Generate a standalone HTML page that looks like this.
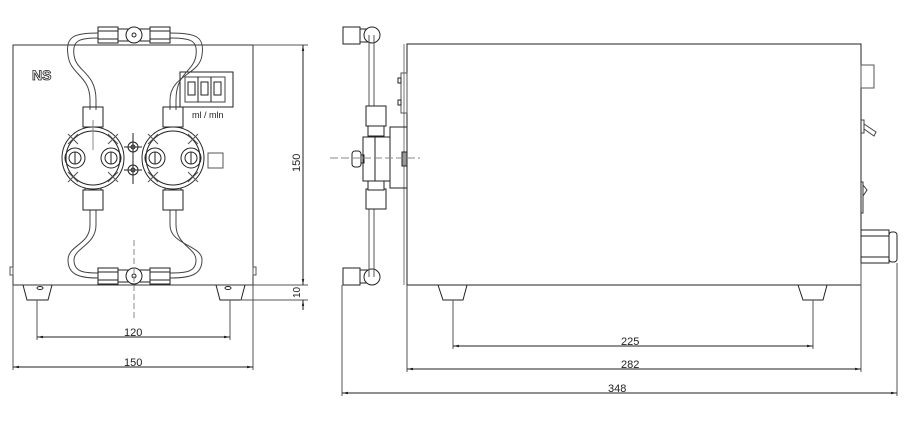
<!DOCTYPE html>
<html><head><meta charset="utf-8"><style>
html,body{margin:0;padding:0;background:#fff;width:904px;height:422px;overflow:hidden}
svg{display:block}
text{font-family:"Liberation Sans",sans-serif;font-size:11px;fill:#222;stroke:none;font-weight:normal}
</style></head><body>
<svg width="904" height="422" viewBox="0 0 904 422" xmlns="http://www.w3.org/2000/svg" fill="none" stroke="#222" stroke-width="1">
<defs>
<marker id="a" viewBox="0 0 10 10" refX="10" refY="5" markerWidth="8" markerHeight="6" orient="auto-start-reverse"><path d="M0,3 L10,5 L0,7" fill="#222" stroke="none"/></marker>
</defs>

<!-- ===== FRONT VIEW ===== -->
<rect x="13" y="45" width="240" height="240" stroke="#333"/>
<rect x="10" y="267" width="3" height="8" stroke="#555"/>
<rect x="253" y="267" width="3" height="8" stroke="#555"/>
<path d="M23,285 L27,300 L48,300 L52,285"/>
<path d="M216,285 L220,300 L241,300 L245,285"/>
<ellipse cx="40" cy="288" rx="3" ry="1.5"/>
<ellipse cx="228" cy="288" rx="3" ry="1.5"/>

<!-- NS logo -->
<text x="32" y="80" style="font-size:14px;font-weight:bold;fill:#fff;stroke:#222;stroke-width:0.8">NS</text>

<!-- display -->
<rect x="180" y="72" width="53" height="35"/>
<rect x="185" y="77" width="40" height="25" stroke="#444"/>
<rect x="188" y="82" width="7" height="13"/>
<rect x="201" y="82" width="7" height="13"/>
<rect x="214" y="82" width="7" height="13"/>
<line x1="198" y1="77" x2="198" y2="102"/><line x1="211" y1="77" x2="211" y2="102"/>
<text x="192" y="118" style="font-size:9px">ml / mln</text>

<g stroke="#444">
<path d="M98,33 C75,33 65,36 68,55 C70,75 90,75 90,100 L90,110"/>
<path d="M98,38 C80,38 72,40 74,55 C76,72 96,72 96,100 L96,110"/>
<path d="M170,33 C195,33 205,36 202,55 C200,75 170,75 170,100 L170,110"/>
<path d="M170,38 C190,38 198,40 196,55 C194,72 176,72 176,100 L176,110"/>
<path d="M90,210 L90,225 C90,245 68,245 68,260 C68,275 80,278 98,278"/>
<path d="M96,210 L96,225 C96,245 74,248 74,260 C74,272 84,273 98,273"/>
<path d="M170,210 L170,225 C170,245 202,245 202,260 C202,275 190,278 170,278"/>
<path d="M176,210 L176,225 C176,245 196,248 196,260 C196,272 186,273 170,273"/>
</g>

<rect x="98" y="27" width="20" height="16"/><line x1="98" y1="31" x2="118" y2="31"/><line x1="98" y1="39" x2="118" y2="39"/>
<rect x="150" y="27" width="20" height="16"/><line x1="150" y1="31" x2="170" y2="31"/><line x1="150" y1="39" x2="170" y2="39"/>
<rect x="118" y="29" width="32" height="12"/>
<circle cx="134" cy="35" r="8" fill="#fff"/><circle cx="134" cy="35" r="2"/>
<rect x="98" y="268" width="20" height="16"/><line x1="98" y1="272" x2="118" y2="272"/><line x1="98" y1="280" x2="118" y2="280"/>
<rect x="150" y="268" width="20" height="16"/><line x1="150" y1="272" x2="170" y2="272"/><line x1="150" y1="280" x2="170" y2="280"/>
<rect x="118" y="270" width="32" height="12"/>
<circle cx="134" cy="276" r="8" fill="#fff"/><circle cx="134" cy="276" r="2"/>
<line x1="134" y1="240" x2="134" y2="318" stroke="#888" stroke-dasharray="6,3"/>

<g>
<rect x="83" y="107" width="20" height="20"/><rect x="85" y="127" width="16" height="8"/>
<rect x="83" y="190" width="20" height="20"/><rect x="85" y="182" width="16" height="8"/>
<rect x="163" y="107" width="20" height="20"/><rect x="165" y="127" width="16" height="8"/>
<rect x="163" y="190" width="20" height="20"/><rect x="165" y="182" width="16" height="8"/>
</g>
<g>
<circle cx="93" cy="158" r="31" fill="#fff"/><circle cx="93" cy="158" r="27"/>
<circle cx="75" cy="158" r="10"/><circle cx="75" cy="158" r="6"/><circle cx="111" cy="158" r="10"/><circle cx="111" cy="158" r="6"/>
<line x1="75" y1="152" x2="75" y2="164"/><line x1="111" y1="152" x2="111" y2="164"/>
<path d="M68,134 l10,10 M78,134 l-10,10 M108,134 l10,10 M118,134 l-10,10 M68,172 l10,10 M78,172 l-10,10 M108,172 l10,10 M118,172 l-10,10" stroke="#555"/>
<line x1="93" y1="120" x2="93" y2="150" stroke="#888"/>
<circle cx="173" cy="158" r="31" fill="#fff"/><circle cx="173" cy="158" r="27"/>
<circle cx="155" cy="158" r="10"/><circle cx="155" cy="158" r="6"/><circle cx="191" cy="158" r="10"/><circle cx="191" cy="158" r="6"/>
<line x1="155" y1="152" x2="155" y2="164"/><line x1="191" y1="152" x2="191" y2="164"/>
<path d="M148,134 l10,10 M158,134 l-10,10 M188,134 l10,10 M198,134 l-10,10 M148,172 l10,10 M158,172 l-10,10 M188,172 l10,10 M198,172 l-10,10" stroke="#555"/>
</g>
<circle cx="133" cy="147" r="5"/><circle cx="133" cy="147" r="2"/>
<circle cx="133" cy="170" r="5"/><circle cx="133" cy="170" r="2"/>
<line x1="133" y1="133" x2="133" y2="184"/><line x1="124" y1="147" x2="142" y2="147"/><line x1="124" y1="170" x2="142" y2="170"/>
<rect x="208" y="153" width="15" height="15" stroke="#555"/>

<!-- front dims -->
<line x1="253" y1="45" x2="308" y2="45" stroke="#555"/>
<line x1="253" y1="285" x2="308" y2="285" stroke="#555"/>
<line x1="240" y1="300" x2="308" y2="300" stroke="#555"/>
<line x1="303" y1="45" x2="303" y2="285" marker-start="url(#a)" marker-end="url(#a)"/>
<line x1="303" y1="310" x2="303" y2="300" marker-end="url(#a)"/>
<text transform="translate(300,172) rotate(-90)">150</text>
<text transform="translate(300,298) rotate(-90)" style="font-size:10px">10</text>
<line x1="37" y1="300" x2="37" y2="340" stroke="#555"/>
<line x1="230" y1="300" x2="230" y2="340" stroke="#555"/>
<line x1="37" y1="337" x2="230" y2="337" marker-start="url(#a)" marker-end="url(#a)"/>
<text x="124" y="336">120</text>
<line x1="13" y1="285" x2="13" y2="370" stroke="#555"/>
<line x1="253" y1="285" x2="253" y2="370" stroke="#555"/>
<line x1="13" y1="367" x2="253" y2="367" marker-start="url(#a)" marker-end="url(#a)"/>
<text x="124" y="366">150</text>

<!-- ===== SIDE VIEW ===== -->
<rect x="407" y="44" width="454" height="241"/>
<line x1="404" y1="44" x2="404" y2="285" stroke="#777"/>
<rect x="401" y="73" width="6" height="40" stroke="#555"/>
<rect x="398" y="78" width="3" height="5"/><rect x="398" y="100" width="3" height="5"/>
<path d="M438,285 L443,300 L463,300 L467,285"/>
<path d="M798,285 L803,300 L823,300 L827,285"/>
<line x1="369" y1="35" x2="369" y2="280" stroke="#555"/>
<line x1="374" y1="35" x2="374" y2="280" stroke="#555"/>
<rect x="343" y="27" width="17" height="17"/><rect x="360" y="29" width="8" height="13"/>
<circle cx="372" cy="35" r="8" fill="#fff"/><line x1="369" y1="35" x2="369" y2="60" stroke="#555"/><line x1="374" y1="35" x2="374" y2="60" stroke="#555"/>
<rect x="343" y="268" width="17" height="17"/><rect x="360" y="270" width="8" height="13"/>
<circle cx="372" cy="277" r="8" fill="#fff"/><line x1="369" y1="277" x2="369" y2="255" stroke="#555"/><line x1="374" y1="277" x2="374" y2="255" stroke="#555"/>
<rect x="366" y="106" width="20" height="20" fill="#fff"/><rect x="368" y="126" width="16" height="10" fill="#fff"/>
<rect x="366" y="189" width="20" height="20" fill="#fff"/><rect x="368" y="181" width="16" height="9" fill="#fff"/>
<rect x="363" y="137" width="27" height="44" fill="#fff"/>
<line x1="375" y1="137" x2="375" y2="181"/>
<rect x="390" y="127" width="17" height="61"/>
<rect x="352" y="151" width="9" height="16" rx="3"/><rect x="361" y="155" width="3" height="8"/>
<rect x="402" y="152" width="5" height="14" fill="#999"/>
<line x1="330" y1="158" x2="420" y2="158" stroke="#888" stroke-dasharray="8,3"/>
<rect x="861" y="65" width="13" height="23" stroke="#555"/>
<path d="M861,120 L864,120 L864,133 L861,133 M864,124 L876,132 L874,136 L864,129" stroke="#444"/>
<path d="M861,182 L863,182 L863,213 L861,213 M863,185 L867,190 L863,196" stroke="#333"/>
<rect x="861" y="230" width="28" height="33"/>
<line x1="861" y1="236" x2="889" y2="236"/><line x1="861" y1="257" x2="889" y2="257"/>
<rect x="889" y="232" width="8" height="30" rx="3"/>
<line x1="453" y1="300" x2="453" y2="349" stroke="#555"/>
<line x1="813" y1="300" x2="813" y2="349" stroke="#555"/>
<line x1="453" y1="346" x2="813" y2="346" marker-start="url(#a)" marker-end="url(#a)"/>
<text x="621" y="345">225</text>
<line x1="407" y1="285" x2="407" y2="372" stroke="#555"/>
<line x1="861" y1="263" x2="861" y2="372" stroke="#555"/>
<line x1="407" y1="369" x2="861" y2="369" marker-start="url(#a)" marker-end="url(#a)"/>
<text x="621" y="368">282</text>
<line x1="342" y1="285" x2="342" y2="396" stroke="#555"/>
<line x1="897" y1="263" x2="897" y2="396" stroke="#555"/>
<line x1="342" y1="393" x2="897" y2="393" marker-start="url(#a)" marker-end="url(#a)"/>
<text x="608" y="392">348</text>
</svg>
</body></html>
